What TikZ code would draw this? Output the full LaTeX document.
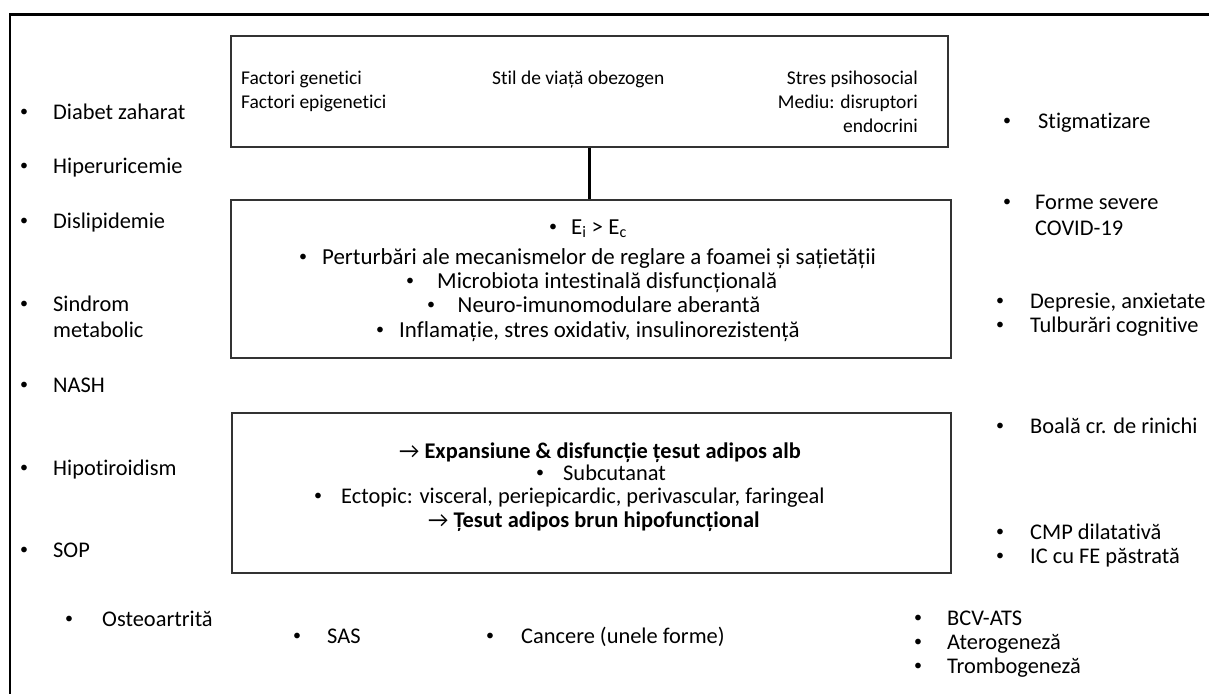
\documentclass[tikz,border=0pt]{standalone}
\usepackage{fontspec}
\setmainfont{Carlito}[Ligatures=NoCommon]
\usetikzlibrary{calc}

% type sizes (1 unit = 1pt)
\newcommand\sidesize{\fontsize{22.4}{26.5}\selectfont}
\newcommand\midsize{\fontsize{22.9}{25}\selectfont}
\newcommand\adipsize{\fontsize{22.4}{25}\selectfont}
\newcommand\topsize{\fontsize{19.5}{24}\selectfont}
% small list bullet, sitting at mid x-height
\newcommand\dotmark{\raisebox{2.6pt}{\fontsize{16}{16}\selectfont •}}

% bulleted item: name, bullet x, text x, baseline y, text
\newcommand\bitem[5]{%
  \node[bul] (#1-dot) at (#2,#4) {\dotmark};
  \node[item] (#1) at (#3,#4) {#5};}

% bulleted line inside a panel: name, bullet x, baseline y, bullet-to-text gap, text
\newcommand\pline[5]{%
  \node[pl] (#1) at (#2,#3) {\makebox[0pt]{\dotmark}\hspace{#4pt}#5};}

\begin{document}
\begin{tikzpicture}[x=1pt,y=-1pt,
  frame/.style={line width=2.6pt, black},
  panel/.style={draw=black!80, line width=1.2pt, rectangle, inner sep=0pt},
  link/.style={line width=2.8pt, black},
  bul/.style={anchor=base, inner sep=0pt},
  item/.style={anchor=base west, inner sep=0pt, font=\sidesize},
  pl/.style={anchor=base west, inner sep=0pt, font=\midsize},
  al/.style={pl, font=\adipsize},
  tt/.style={inner sep=0pt, font=\topsize}]

\useasboundingbox (0,0) rectangle (1209,693);

% outer frame (top and left edges)
\draw[frame] (1212,14.5) -- (10,14.5) -- (10,696);

% causes panel
\node[panel, minimum width=717pt, minimum height=111pt] (causes) at (589.5,91.5) {};
\node[tt, anchor=base west] (gen)    at (241,84)  {Factori genetici};
\node[tt, anchor=base west] (epi)    at (241,108) {Factori epigenetici};
\node[tt, anchor=base west] (life)   at (492,84)  {Stil de viață obezogen};
\node[tt, anchor=base east] (stress) at (918,84)  {Stres psihosocial};
\node[tt, anchor=base east] (env)    at (918,108) {Mediu: disruptori};
\node[tt, anchor=base east] (endo)   at (918,132) {endocrini};

% mechanisms panel
\node[panel, minimum width=720pt, minimum height=158pt] (mech) at (591,279) {};
\pline{m1}{553}{234}{18}{E\textsubscript{i} > E\textsubscript{c}}
\pline{m2}{303}{264}{19}{Perturbări ale mecanismelor de reglare a foamei și sațietății}
\pline{m3}{410}{288}{27}{Microbiota intestinală disfuncțională}
\pline{m4}{431}{312}{26.5}{Neuro-imunomodulare aberantă}
\pline{m5}{380}{337}{19}{Inflamație, stres oxidativ, insulinorezistență}

% adipose tissue panel
\node[panel, minimum width=719pt, minimum height=160pt] (adip) at (591.5,493) {};
\node[al] (a1) at (399,458) {→ \textbf{Expansiune \& disfuncție țesut adipos alb}};
\node[al] (a2) at (540,480) {\makebox[0pt]{\dotmark}\hspace{23pt}Subcutanat};
\node[al] (a3) at (318,503) {\makebox[0pt]{\dotmark}\hspace{23pt}Ectopic: visceral, periepicardic, perivascular, faringeal};
\node[al] (a4) at (428,527) {→ \textbf{Țesut adipos brun hipofuncțional}};

% connector between the first two panels
\draw[link] (causes.south) -- (causes.south |- mech.north);

% left column
\bitem{dz}{24}{53}{119}{Diabet zaharat}
\bitem{hu}{24}{53}{173}{Hiperuricemie}
\bitem{dl}{24}{53}{228}{Dislipidemie}
\bitem{sm}{24}{53}{311}{\begin{tabular}[t]{@{}l@{}}Sindrom\\ metabolic\end{tabular}}
\bitem{na}{24}{53}{392}{NASH}
\bitem{ht}{24}{53}{475}{Hipotiroidism}
\bitem{so}{24}{53}{557}{SOP}

% bottom row
\bitem{oa}{69}{102}{626}{Osteoartrită}
\bitem{sa}{297}{327}{643}{SAS}
\bitem{ca}{490}{521}{643}{Cancere (unele forme)}

% right column
\bitem{st}{1007}{1038}{128}{Stigmatizare}
\bitem{cv}{1007}{1035}{209}{\begin{tabular}[t]{@{}l@{}}Forme severe\\ COVID-19\end{tabular}}
\bitem{dp}{1000}{1030}{308}{Depresie, anxietate}
\bitem{tc}{1000}{1030}{332}{Tulburări cognitive}
\bitem{br}{1000}{1030}{433}{Boală cr. de rinichi}
\bitem{cm}{1000}{1030}{539}{CMP dilatativă}
\bitem{ic}{1000}{1030}{563}{IC cu FE păstrată}
\bitem{bc}{918}{947}{625}{BCV-ATS}
\bitem{at}{918}{947}{649}{Aterogeneză}
\bitem{tr}{918}{947}{673}{Trombogeneză}
\end{tikzpicture}
\end{document}
